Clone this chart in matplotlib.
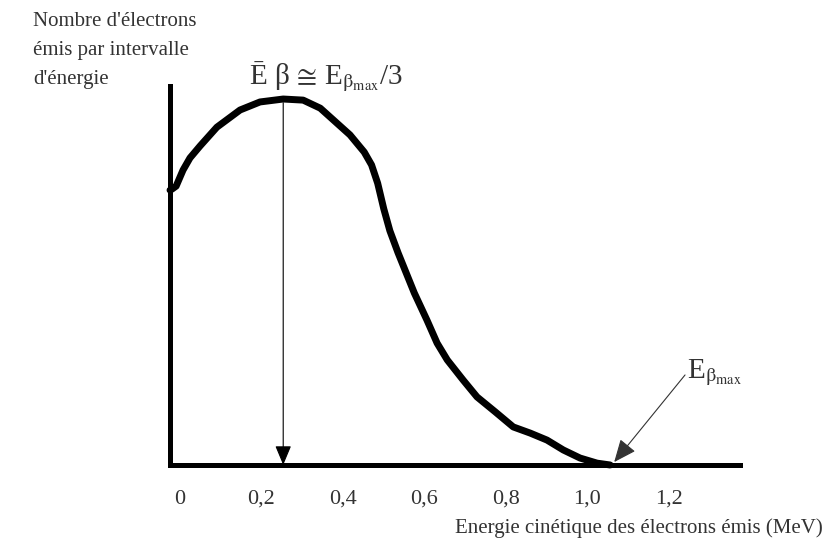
import numpy as np
import matplotlib.pyplot as plt
import matplotlib.transforms as mtrans

plt.rcParams['font.family'] = ['Liberation Serif', 'DejaVu Serif']
plt.rcParams['mathtext.fontset'] = 'stix'

# Spectre beta (energie en MeV, nombre en unites arbitraires)
energie = [0.0, 0.005, 0.015, 0.032, 0.049, 0.074, 0.115, 0.172, 0.221, 0.278,
           0.327, 0.369, 0.410, 0.442, 0.477, 0.495, 0.510, 0.525, 0.540, 0.560,
           0.580, 0.600, 0.631, 0.656, 0.681, 0.720, 0.754, 0.799, 0.843, 0.885,
           0.926, 0.966, 1.007, 1.049, 1.081]
nombre = [0.751, 0.754, 0.762, 0.806, 0.839, 0.872, 0.923, 0.970, 0.992, 1.000,
          0.997, 0.975, 0.934, 0.902, 0.855, 0.820, 0.770, 0.700, 0.640, 0.580,
          0.525, 0.470, 0.396, 0.333, 0.287, 0.232, 0.186, 0.145, 0.104, 0.087,
          0.068, 0.041, 0.019, 0.005, 0.0]

ticks = [0, 0.2, 0.4, 0.6, 0.8, 1.0, 1.2]
tick_labels = ['0', '0,2', '0,4', '0,6', '0,8', '1,0', '1,2']

e_moyen = 0.278      # energie moyenne
e_max = 1.091        # pointe de la fleche E_beta_max
e_max_label = (1.265, 0.246)

fig = plt.figure(figsize=(8.27, 5.48), dpi=100)
ax = fig.add_axes([0.2056, 0.1515, 0.6892, 0.6915])

ax.plot(energie, nombre, color='black', linewidth=5, solid_capstyle='round',
        solid_joinstyle='round', clip_on=False, zorder=3)

ax.set_xlim(0, 1.40)
ax.set_ylim(0, 1.0355)

for s in ['top', 'right']:
    ax.spines[s].set_visible(False)
for s in ['left', 'bottom']:
    ax.spines[s].set_linewidth(3.6)
    ax.spines[s].set_color('black')

ax.set_yticks([])
ax.set_xticks(ticks)
ax.set_xticklabels(tick_labels, fontsize=16, color='#333333')
ax.tick_params(axis='x', length=0, pad=18)
offset = mtrans.ScaledTranslation(10 / 100, 0, fig.dpi_scale_trans)
for lab in ax.get_xticklabels():
    lab.set_transform(lab.get_transform() + offset)

# Fleche de l'energie moyenne
ax.annotate('', xy=(e_moyen, 0.0), xytext=(e_moyen, 0.99),
            arrowprops=dict(arrowstyle='-|>,head_length=0.6,head_width=0.25',
                            lw=0.8, color='black', mutation_scale=20,
                            shrinkA=0, shrinkB=0), annotation_clip=False)
ax.text(0.195, 1.06, r'Ē β$\,\cong\,$E$_{\mathrm{β}_{\mathrm{max}}}$/3',
        fontsize=21, color='#333333', ha='left', va='center', clip_on=False)

# Fleche E beta max
ax.annotate('', xy=(e_max, 0.008), xytext=e_max_label,
            arrowprops=dict(arrowstyle='-|>,head_length=0.7,head_width=0.3',
                            lw=0.8, color='#333333', mutation_scale=20,
                            shrinkA=0, shrinkB=0), annotation_clip=False)
ax.text(e_max_label[0] + 0.005, e_max_label[1] + 0.005,
        r'E$_{\mathrm{β}_{\mathrm{max}}}$', fontsize=21, color='#333333',
        ha='left', va='center', clip_on=False)

fig.text(0.04, 0.978, "Nombre d'électrons\némis par intervalle\nd'énergie",
         fontsize=15, color='#333333', ha='left', va='top', linespacing=1.7)
fig.text(0.995, 0.036, "Energie cinétique des électrons émis (MeV)",
         fontsize=15, color='#333333', ha='right', va='center')

plt.savefig('out.png', dpi=100)
